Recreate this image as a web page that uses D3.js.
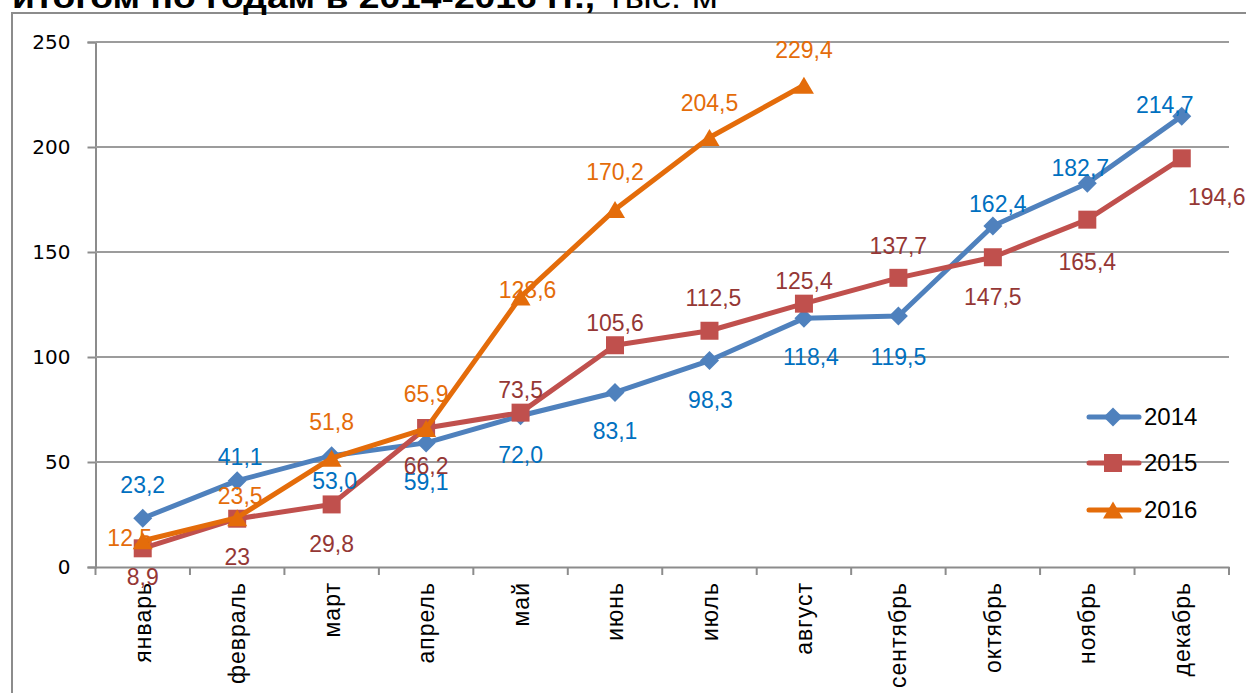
<!DOCTYPE html>
<html><head><meta charset="utf-8">
<script src="https://cdn.jsdelivr.net/npm/d3@7"></script>
<style>
html,body{margin:0;padding:0;background:#fff;overflow:hidden;}
svg{display:block;}
</style></head>
<body>
<svg id="chart" width="1246" height="693"></svg>
<script>
const months = ["январь","февраль","март","апрель","май","июнь","июль","август","сентябрь","октябрь","ноябрь","декабрь"];
const yTicks = [0, 50, 100, 150, 200, 250];
const v2014 = [23.2, 41.1, 53.0, 59.1, 72.0, 83.1, 98.3, 118.4, 119.5, 162.4, 182.7, 214.7];
const v2015 = [8.9, 23, 29.8, 66.2, 73.5, 105.6, 112.5, 125.4, 137.7, 147.5, 165.4, 194.6];
const v2016 = [12.5, 23.5, 51.8, 65.9, 128.6, 170.2, 204.5, 229.4];
const lbl2014 = ["23,2","41,1","53,0","59,1","72,0","83,1","98,3","118,4","119,5","162,4","182,7","214,7"];
const lbl2015 = ["8,9","23","29,8","66,2","73,5","105,6","112,5","125,4","137,7","147,5","165,4","194,6"];
const lbl2016 = ["12,5","23,5","51,8","65,9","128,6","170,2","204,5","229,4"];
const seriesNames = ["2014","2015","2016"];

// label placement offsets (annotation style, not data)
const off2014 = [[0,-33],[3,-24],[3,25],[0,39],[0,39],[0,38],[1,39],[7,39],[0,41],[5,-22],[-7,-15],[-17,-11]];
const off2015 = [[0,29],[0,38],[0,40],[0,38],[0,-23],[0,-22],[4,-33],[0,-23],[0,-32],[0,40],[0,42],[35,39]];
const off2016 = [[-13,-3],[3,-22],[0,-36],[0,-35],[7,-7],[0,-38],[0,-35],[0,-35]];

const svg = d3.select("#chart");
const L = 95.5, R = 1229, T = 42, B = 567;

// outer frame
svg.append("rect").attr("x",12).attr("y",13).attr("width",1300).attr("height",800)
  .attr("fill","none").attr("stroke","#8c8c8c").attr("stroke-width",2);

// title (clipped at top)
const title = svg.append("text").attr("y",8).attr("font-family","Liberation Sans, Arial, sans-serif").attr("fill","#000");
title.append("tspan").attr("x",12).attr("font-weight","bold").attr("font-size",32)
  .attr("textLength",583).attr("lengthAdjust","spacingAndGlyphs").text("итогом по годам в 2014-2016 гг.,");
title.append("tspan").attr("x",607).attr("font-size",32)
  .attr("textLength",111).attr("lengthAdjust","spacingAndGlyphs").text("тыс. м");

const x = d3.scaleBand().domain(months).range([L, R]).padding(0);
const y = d3.scaleLinear().domain([0, 250]).range([B, T]);
const cx = m => x(m) + x.bandwidth()/2;

// gridlines + y axis
const yAxis = d3.axisLeft(y).tickValues(yTicks).tickSize(8).tickFormat(d3.format("d"));
const gy = svg.append("g").attr("transform",`translate(${L},0)`).call(yAxis);
gy.select(".domain").attr("stroke","#8c8c8c").attr("stroke-width",2);
gy.selectAll(".tick line").attr("stroke","#8c8c8c").attr("stroke-width",2);
gy.selectAll(".tick text").attr("x",-25).attr("font-family","DejaVu Sans, sans-serif").attr("font-size",20).attr("fill","#000");
svg.append("g").selectAll("line").data(yTicks.filter(d=>d>0)).join("line")
  .attr("x1",L).attr("x2",R).attr("y1",d=>y(d)).attr("y2",d=>y(d))
  .attr("stroke","#9c9c9c").attr("stroke-width",2);

// x axis
const gx = svg.append("g").attr("transform",`translate(0,${B})`)
  .call(d3.axisBottom(x).tickSize(0).tickFormat(""));
gx.select(".domain").attr("stroke","#8c8c8c").attr("stroke-width",2);
const edges = months.map(m => x(m)).concat([R]);
svg.append("g").selectAll("line").data(edges).join("line")
  .attr("x1",d=>d).attr("x2",d=>d).attr("y1",B).attr("y2",B+8)
  .attr("stroke","#8c8c8c").attr("stroke-width",2);
svg.append("g").selectAll("text").data(months).join("text")
  .attr("transform",d=>`translate(${cx(d)},582) rotate(-90)`)
  .attr("text-anchor","end").attr("dy","0.35em")
  .attr("font-family","Liberation Sans, Arial, sans-serif").attr("font-size",23)
  .attr("letter-spacing",1).attr("fill","#000")
  .text(d=>d);

// markers
const diamond = s => `M0,${-s}L${s},0L0,${s}L${-s},0Z`;
const square = s => `M${-s},${-s}H${s}V${s}H${-s}Z`;
const triangle = s => `M0,${-s*0.85}L${s},${s*0.85}L${-s},${s*0.85}Z`;

const series = [
  {name:seriesNames[0], vals:v2014, lbls:lbl2014, offs:off2014, color:"#4F81BD", lc:"#0070C0", shape:diamond(9.5)},
  {name:seriesNames[1], vals:v2015, lbls:lbl2015, offs:off2015, color:"#C0504D", lc:"#953735", shape:square(9)},
  {name:seriesNames[2], vals:v2016, lbls:lbl2016, offs:off2016, color:"#E46C0A", lc:"#E46C0A", shape:triangle(10)}
];

const line = d3.line().x(d=>cx(d.m)).y(d=>y(d.v));
series.forEach(s => {
  const pts = s.vals.map((v,i)=>({m:months[i], v, l:s.lbls[i], o:s.offs[i]}));
  const g = svg.append("g");
  g.append("path").datum(pts).attr("d",line).attr("fill","none")
    .attr("stroke",s.color).attr("stroke-width",5).attr("stroke-linejoin","round").attr("stroke-linecap","round");
  g.selectAll("path.mk").data(pts).join("path").attr("class","mk")
    .attr("transform",d=>`translate(${cx(d.m)},${y(d.v)})`).attr("d",s.shape).attr("fill",s.color);
  s.pts = pts;
});
series.forEach(s => {
  svg.append("g").selectAll("text").data(s.pts).join("text")
    .attr("x",d=>cx(d.m)+d.o[0]).attr("y",d=>y(d.v)+d.o[1]).attr("dy","0.35em")
    .attr("text-anchor","middle").attr("font-family","Liberation Sans, Arial, sans-serif")
    .attr("font-size",23).attr("fill",s.lc).text(d=>d.l);
});

// legend
const legY = [417, 463, 510];
series.forEach((s,i) => {
  const g = svg.append("g").attr("transform",`translate(0,${legY[i]})`);
  g.append("line").attr("x1",1089).attr("x2",1139).attr("y1",0).attr("y2",0)
    .attr("stroke",s.color).attr("stroke-width",5).attr("stroke-linecap","round");
  g.append("path").attr("transform","translate(1113,0)").attr("d",s.shape).attr("fill",s.color);
  g.append("text").attr("x",1144).attr("dy","0.35em").attr("font-family","Liberation Sans, Arial, sans-serif")
    .attr("font-size",24).attr("fill","#000").text(s.name);
});
</script>
</body></html>
